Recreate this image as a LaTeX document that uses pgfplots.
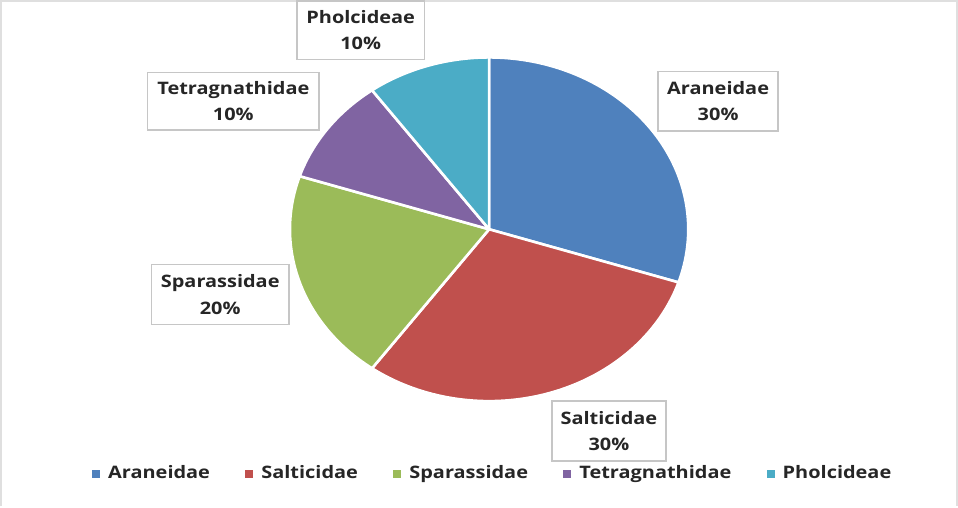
\documentclass[border=0pt]{standalone}
\usepackage{pgfplots}
\pgfplotsset{compat=1.18}
\usepackage{fontspec}
\setmainfont{Open Sans}[FakeStretch=1.16]
\definecolor{c1}{HTML}{4F81BD}
\definecolor{c2}{HTML}{C0504D}
\definecolor{c3}{HTML}{9BBB59}
\definecolor{c4}{HTML}{8064A2}
\definecolor{c5}{HTML}{4BACC6}
\definecolor{txt}{HTML}{262626}
% #1 = cumulative percent before slice, #2 = percent, #3 = colour
\newcommand\slice[3]{%
  \fill[#3, draw=white, line width=1.3pt, line join=round]
    (axis cs:491,274) -- +({90-3.6*#1}:98.5pt and 85pt)
    arc[start angle={90-3.6*#1}, end angle={90-3.6*(#1+#2)}, x radius=98.5pt, y radius=85pt] -- cycle;}
\newcommand\lbl[5]{%
  \node[draw=gray!45, line width=0.8pt, fill=white, inner sep=0pt,
        minimum width=#3pt, minimum height=#4pt, align=center,
        font=\bfseries\fontsize{8.5}{13}\selectfont, text=txt]
    at (axis cs:#1,#2) {#5};}
\begin{document}
\begin{tikzpicture}
\begin{axis}[
  scale only axis, width=479pt, height=251.5pt,
  xmin=0, xmax=958, ymin=0, ymax=503,
  hide axis, clip=false,
  legend columns=-1,
  legend image code/.code={\fill[#1] (0pt,-1.75pt) rectangle (3.5pt,1.75pt);},
  legend style={at={(axis cs:98,32)}, anchor=west, draw=none, fill=none,
    inner sep=0pt, font=\bfseries\fontsize{8.5}{10}\selectfont, text=txt,
    nodes={inner sep=0pt},
    /tikz/every odd column/.append style={column sep=4pt},
    /tikz/every even column/.append style={column sep=17.5pt}},
]
% faint frame
\draw[gray!25, line width=0.8pt] (axis cs:8,0) -- (axis cs:8,500) -- (axis cs:954,500) -- (axis cs:954,0);
% slices: values in percent
\slice{0}{30}{c1}
\slice{30}{30}{c2}
\slice{60}{20}{c3}
\slice{80}{10}{c4}
\slice{90}{10}{c5}
\addlegendimage{c1}\addlegendentry{Araneidae}
\addlegendimage{c2}\addlegendentry{Salticidae}
\addlegendimage{c3}\addlegendentry{Sparassidae}
\addlegendimage{c4}\addlegendentry{Tetragnathidae}
\addlegendimage{c5}\addlegendentry{Pholcideae}
\lbl{717.5}{400.5}{59.5}{29.5}{Araneidae\\30\%}
\lbl{609.5}{74.5}{56.5}{29.5}{Salticidae\\30\%}
\lbl{225}{209.5}{68}{29.5}{Sparassidae\\20\%}
\lbl{238}{400.5}{85}{28.5}{Tetragnathidae\\10\%}
\lbl{364}{471}{63}{29}{Pholcideae\\10\%}
\end{axis}
\end{tikzpicture}
\end{document}
